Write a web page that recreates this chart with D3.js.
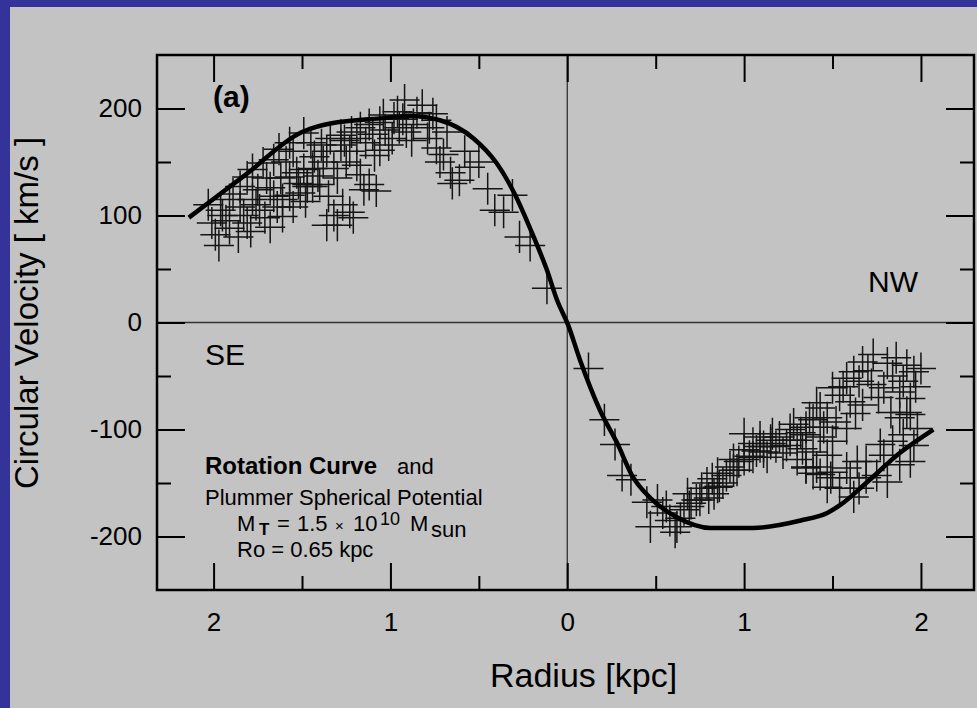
<!DOCTYPE html>
<meta charset="utf-8">
<style>
body { margin: 0; background: #333399; }
text { font-family: "Liberation Sans", Arial, sans-serif; fill: #000; }
</style>
<body>
<script src="https://cdn.jsdelivr.net/npm/d3@7"></script>
<script>

// radius in kpc (SE side negative), velocity in km/s
var seRadius = [-1.97,-2.01,-1.95,-1.91,-1.86,-1.85,-1.78,-1.81,-1.74,-1.75,-1.68,-1.72,-1.66,-1.63,-1.57,-1.64,-1.61,-1.57,-1.68,-1.61,
  -1.55,-1.51,-1.47,-1.44,-1.53,-1.49,-1.57,-1.81,-1.78,-1.85,-1.91,-1.96,-1.45,-1.49,
  -1.39,-1.34,-1.28,-1.22,-1.17,-1.12,-1.06,-0.98,-0.95,-0.91,-0.87,-0.92,-0.82,-0.96,-1.04,-0.79,
  -0.74,-0.70,-0.74,-0.68,-0.72,-0.66,-1.01,-1.09,-1.17,-1.12,-1.08,-1.19,-1.25,-1.28,-1.32,-1.38,-1.44,-1.47,-1.40,
  -1.32,-1.27,-1.23,-1.21,-1.36,-1.30,-1.15,-1.06,
  -0.61,-0.55,-0.45,-0.41,-0.36,-0.31,-0.27,-0.21,-0.115,-0.65,-0.58,-0.50,
  -2.03,-1.99,-1.93,-1.89,-1.83,-1.79,-1.76,-1.71,-1.70,-1.66,-1.62,-1.59,-1.55,-1.52,-1.48,-1.43,
  -1.41,-1.36,-1.35,-1.30,-1.26,-1.23,-1.19,-1.14,-1.10,-1.03,-0.99,-0.93,-0.88,-0.85,-0.78,-0.76];
var seVelocity = [72,93,100,88,80,108,115,93,105,124,126,149,152,162,168,108,115,119,89,99,
  108,121,127,127,140,143,136,136,143,127,115,105,168,177,
  166,172,175,178,182,185,187,191,182,178,185,208,203,197,194,172,
  163,157,189,178,150,140,166,156,138,129,123,147,150,166,144,150,144,129,129,
  100,110,103,98,91,91,124,161,
  133,145,125,105,103,119,80,72,32,130,160,150,
  110,82,95,120,100,85,110,98,135,118,135,150,160,130,113,155,
  137,160,118,135,170,160,172,168,176,180,172,190,170,196,182,195];

var nwRadius = [0.12,0.21,0.27,0.31,0.36,0.45,0.51,0.47,0.61,0.54,0.66,0.70,0.75,0.80,0.85,0.90,0.94,1.05,1.00,1.11,
  1.15,1.20,1.26,1.30,0.79,0.85,0.94,1.05,1.13,1.22,
  0.56,0.62,0.69,0.73,0.83,0.86,0.92,0.96,1.00,1.03,1.09,1.11,1.15,1.18,1.26,1.32,1.35,1.39,1.30,1.35,1.39,1.09,1.00,
  1.67,1.73,1.81,1.86,1.92,1.96,2.00,1.62,1.58,1.65,1.72,1.79,1.88,1.94,1.50,1.54,1.60,1.67,1.43,1.37,1.47,1.52,1.58,
  1.35,1.43,1.50,1.39,1.47,
  1.83,1.88,1.94,1.90,1.84,1.77,1.79,1.69,1.64,1.58,1.50,1.69,1.75,1.81,1.65,1.54,1.49,1.88,1.94,1.35,1.43,1.92,1.98,
  1.41,1.47,1.62,
  0.58,0.64,0.68,0.76,0.82,0.88,0.97,1.07,1.16,1.24,1.28,1.33,1.41,1.45,1.56,1.63,1.70,1.76,1.84,1.90,1.97,1.60,1.96];
var nwVelocity = [-43,-91,-114,-143,-147,-168,-166,-191,-196,-178,-175,-169,-166,-164,-154,-143,-138,-113,-119,-116,
  -110,-107,-100,-110,-150,-141,-128,-126,-126,-122,
  -172,-191,-172,-166,-160,-153,-135,-138,-128,-125,-116,-121,-113,-116,-110,-103,-98,-91,-128,-135,-141,-107,-104,
  -37,-30,-38,-33,-40,-46,-43,-46,-52,-55,-58,-61,-65,-71,-61,-68,-74,-77,-80,-89,-89,-93,-99,
  -105,-107,-111,-121,-124,
  -84,-89,-86,-105,-111,-114,-124,-130,-130,-136,-140,-145,-143,-149,-155,-155,-145,-133,-130,-136,-142,-84,-99,
  -135,-154,-163,
  -185,-183,-160,-155,-146,-150,-130,-120,-104,-115,-95,-118,-75,-98,-60,-85,-45,-70,-50,-55,-60,-145,-115];

// model curve
var curveRadius = [-2.14,-1.82,-1.50,-1.34,-1.04,-0.89,-0.72,-0.53,-0.40,-0.30,-0.19,-0.115,-0.058,0.004,0.072,0.185,0.28,0.37,0.47,0.62,0.81,1.05,1.32,1.47,1.54,1.69,1.88,2.07];
var curveVelocity = [98,138,178,186,191,193,189,172,149,121,80,49,21,-2,-35,-82,-112,-144,-164,-182,-192,-192,-185,-178,-171,-150,-122,-100];

var xMajor = [-2, -1, 0, 1, 2],
    xMinor = [-1.5, -0.5, 0.5, 1.5],
    yMajor = [-200, -100, 0, 100, 200],
    yMinor = [-150, -50, 50, 150];

var W = 977, H = 708;
var plotL = 157, plotR = 974, plotT = 55, plotB = 590;

var svg = d3.select("body").append("svg")
    .attr("width", W)
    .attr("height", H)
    .style("display", "block");

svg.append("rect").attr("width", W).attr("height", H).attr("fill", "#333399");
svg.append("rect").attr("x", 10).attr("y", 7).attr("width", W - 10).attr("height", H - 7).attr("fill", "#c3c3c3");

var x = d3.scaleLinear().domain([-2.32, 2.3]).range([plotL, plotR]);
var y = d3.scaleLinear().domain([-250, 250]).range([plotB, plotT]);

// zero lines
svg.append("line").attr("x1", plotL).attr("x2", plotR).attr("y1", y(0)).attr("y2", y(0))
    .attr("stroke", "#333").attr("stroke-width", 1.3);
svg.append("line").attr("x1", x(0)).attr("x2", x(0)).attr("y1", plotT).attr("y2", plotB)
    .attr("stroke", "#333").attr("stroke-width", 1.3);

// axes, ticks inward
function styleAxis(g) {
  g.select(".domain").remove();
  g.selectAll(".tick line").attr("stroke", "#000").attr("stroke-width", 2);
  g.selectAll(".tick text").style("font-size", "26px").attr("fill", "#000");
}

svg.append("g").attr("transform", "translate(0," + plotB + ")")
    .call(d3.axisBottom(x).tickValues(xMajor).tickSize(-27).tickPadding(23)
      .tickFormat(function(d) { return Math.abs(d); }))
    .call(styleAxis);
svg.append("g").attr("transform", "translate(0," + plotB + ")")
    .call(d3.axisBottom(x).tickValues(xMinor).tickSize(-14).tickFormat(""))
    .call(styleAxis);
svg.append("g").attr("transform", "translate(0," + plotT + ")")
    .call(d3.axisTop(x).tickValues(xMajor).tickSize(-27).tickFormat(""))
    .call(styleAxis);
svg.append("g").attr("transform", "translate(0," + plotT + ")")
    .call(d3.axisTop(x).tickValues(xMinor).tickSize(-14).tickFormat(""))
    .call(styleAxis);

svg.append("g").attr("transform", "translate(" + plotL + ",0)")
    .call(d3.axisLeft(y).tickValues(yMajor).tickSize(-28).tickPadding(15)
      .tickFormat(function(d) { return String(d); }))
    .call(styleAxis);
svg.append("g").attr("transform", "translate(" + plotL + ",0)")
    .call(d3.axisLeft(y).tickValues(yMinor).tickSize(-14).tickFormat(""))
    .call(styleAxis);
svg.append("g").attr("transform", "translate(" + plotR + ",0)")
    .call(d3.axisRight(y).tickValues(yMajor).tickSize(-28).tickFormat(""))
    .call(styleAxis);
svg.append("g").attr("transform", "translate(" + plotR + ",0)")
    .call(d3.axisRight(y).tickValues(yMinor).tickSize(-14).tickFormat(""))
    .call(styleAxis);

// data crosses
var points = seRadius.map(function(r, i) { return {r: r, v: seVelocity[i]}; })
  .concat(nwRadius.map(function(r, i) { return {r: r, v: nwVelocity[i]}; }));
var dr = 0.085, dv = 15;

svg.append("g").selectAll("path.cross")
    .data(points)
  .enter().append("path")
    .attr("class", "cross")
    .attr("d", function(d) {
      return "M" + x(d.r - dr) + "," + y(d.v) + "H" + x(d.r + dr) +
             "M" + x(d.r) + "," + y(d.v - dv) + "V" + y(d.v + dv);
    })
    .attr("fill", "none")
    .attr("stroke", "#151515")
    .attr("stroke-width", 1.5);

// model curve
var line = d3.line()
    .x(function(d) { return x(d[0]); })
    .y(function(d) { return y(d[1]); })
    .curve(d3.curveMonotoneX);

svg.append("path")
    .datum(d3.zip(curveRadius, curveVelocity))
    .attr("d", line)
    .attr("fill", "none")
    .attr("stroke", "#000")
    .attr("stroke-width", 4.5)
    .attr("stroke-linejoin", "round");

// frame
svg.append("rect")
    .attr("x", plotL).attr("y", plotT)
    .attr("width", plotR - plotL).attr("height", plotB - plotT)
    .attr("fill", "none").attr("stroke", "#000").attr("stroke-width", 2.5);

// labels
svg.append("text")
    .attr("x", 490).attr("y", 687)
    .style("font-size", "34px")
    .text("Radius [kpc]");

svg.append("text")
    .attr("transform", "translate(38,313) rotate(-90)")
    .attr("text-anchor", "middle")
    .style("font-size", "33px")
    .text("Circular Velocity [ km/s ]");

svg.append("text").attr("x", 213).attr("y", 107)
    .style("font-size", "30px").style("font-weight", "bold").text("(a)");
svg.append("text").attr("x", 868).attr("y", 292)
    .style("font-size", "30px").text("NW");
svg.append("text").attr("x", 205).attr("y", 365)
    .style("font-size", "30px").text("SE");

var note = svg.append("g").style("font-size", "22px");
var t1 = note.append("text").attr("x", 205).attr("y", 474);
t1.append("tspan").style("font-weight", "bold").style("font-size", "24px").text("Rotation Curve");
t1.append("tspan").attr("x", 397).text("and");
note.append("text").attr("x", 205).attr("y", 505).text("Plummer Spherical Potential");
var t3 = note.append("text").attr("y", 531);
t3.append("tspan").attr("x", 237).text("M");
t3.append("tspan").attr("x", 259).attr("dy", 4).style("font-size", "17px").style("font-weight", "bold").text("T");
t3.append("tspan").attr("x", 277).attr("dy", -4).text("=");
t3.append("tspan").attr("x", 297).text("1.5");
t3.append("tspan").attr("x", 335).style("font-size", "15px").text("×");
t3.append("tspan").attr("x", 353).text("10");
t3.append("tspan").attr("x", 380).attr("dy", -6).style("font-size", "18px").text("10");
t3.append("tspan").attr("x", 410).attr("dy", 6).text("M");
t3.append("tspan").attr("x", 431).attr("dy", 6).text("sun");
note.append("text").attr("x", 237).attr("y", 557).text("Ro = 0.65 kpc");

</script>
